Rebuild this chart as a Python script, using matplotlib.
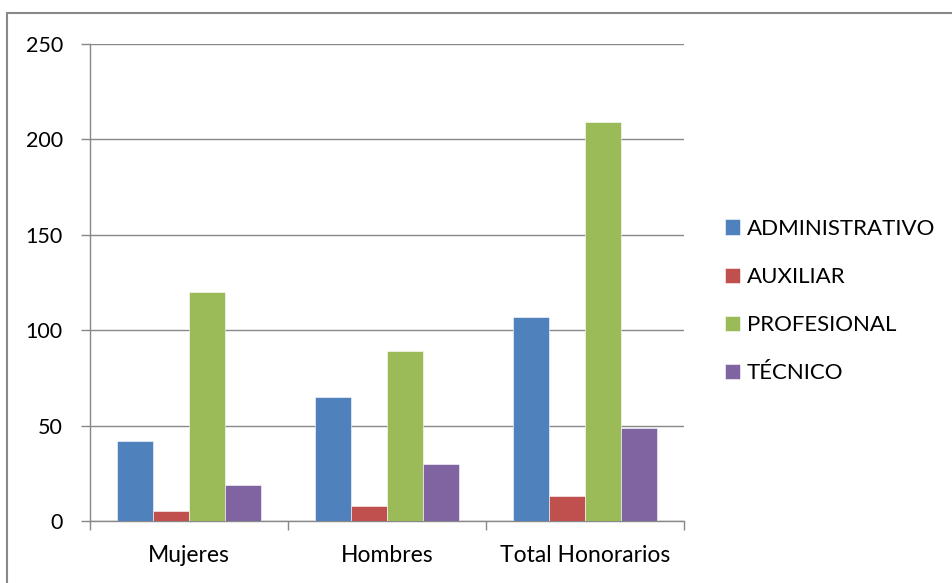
import numpy as np
import matplotlib
matplotlib.use("Agg")
from matplotlib import pyplot as plt
from matplotlib.patches import Rectangle

# dati
categorie = ["Mujeres", "Hombres", "Total Honorarios"]
administrativo = [42, 65, 107]
auxiliar = [5, 8, 13]
profesional = [120, 89, 209]
tecnico = [19, 30, 49]

serie = [("ADMINISTRATIVO", administrativo, "#4F81BD"),
         ("AUXILIAR", auxiliar, "#C0504D"),
         ("PROFESIONAL", profesional, "#9BBB59"),
         ("TÉCNICO", tecnico, "#8064A2")]

plt.rcParams['font.family'] = ['Lato', 'DejaVu Sans']

fig = plt.figure(figsize=(9.52, 5.83), dpi=100)
ax = fig.add_axes([90/952, 1-521/583, (684-90)/952, (521-44)/583])

x = np.arange(len(categorie))
w = 0.182
for i, (nome, valori, colore) in enumerate(serie):
    ax.bar(x + (i - 1.5) * w, valori, w, color=colore, label=nome,
           edgecolor="white", linewidth=0.4, zorder=3)

ax.set_xlim(-0.5, 2.5)
ax.set_ylim(0, 250)
ax.set_yticks(range(0, 251, 50))
ax.set_xticks(x)
ax.set_xticklabels(categorie)
ax.set_xticks([-0.5, 0.5, 1.5, 2.5], minor=True)
ax.tick_params(axis='x', which='major', length=0, pad=17, labelsize=16.5)
ax.tick_params(axis='x', which='minor', length=6.5, color="#888888", width=1)
ax.tick_params(axis='y', length=6.5, color="#888888", width=1, labelsize=15.5, pad=13)
ax.grid(axis='y', color="#888888", linewidth=1, zorder=0)
for s in ["top", "right"]:
    ax.spines[s].set_visible(False)
for s in ["left", "bottom"]:
    ax.spines[s].set_color("#888888")
    ax.spines[s].set_linewidth(1)

leg = ax.legend(loc="center left", bbox_to_anchor=(1.069, 0.461), frameon=False,
                fontsize=16, handlelength=0.68, handleheight=0.68,
                handletextpad=0.3, labelspacing=1.27, borderpad=0, borderaxespad=0)

# cornice del grafico
fig.patches.append(Rectangle((7/952, -0.1), 1.2, 1 - 13/583 + 0.1,
                             transform=fig.transFigure, fill=False,
                             edgecolor="#888888", linewidth=1.5))

fig.savefig("out.png", dpi=100)
